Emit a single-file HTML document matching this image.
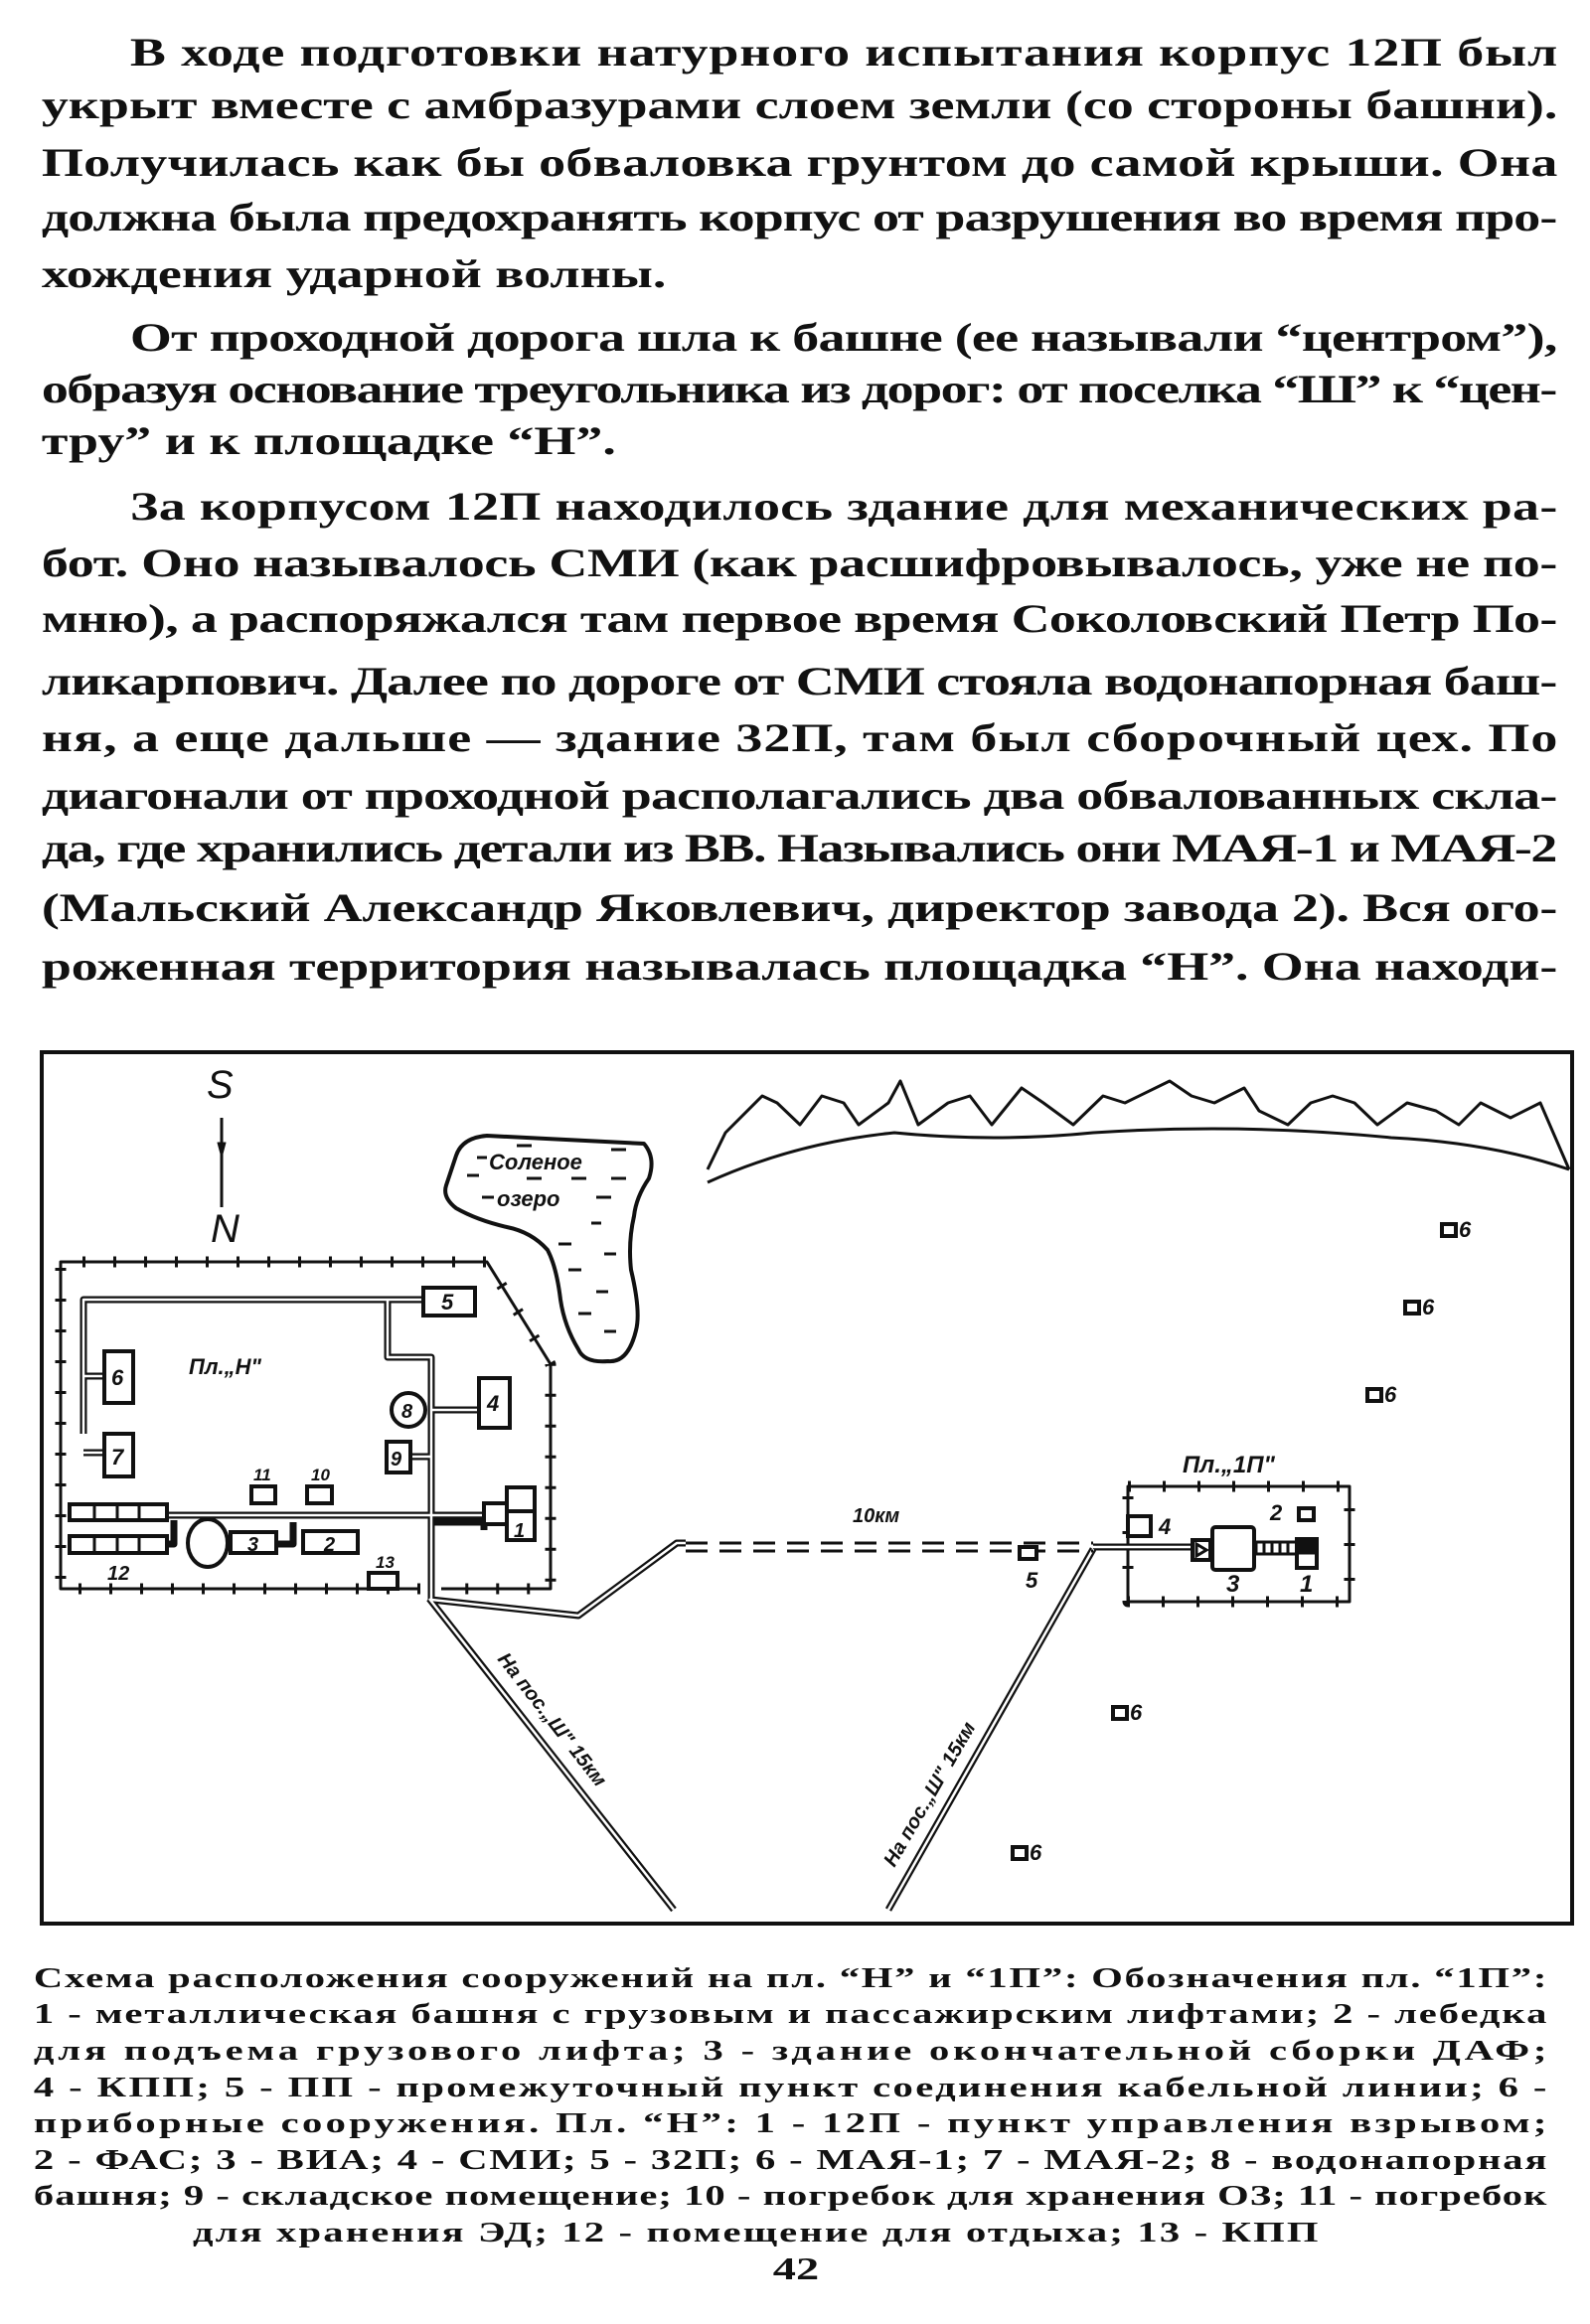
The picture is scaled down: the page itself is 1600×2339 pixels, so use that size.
<!DOCTYPE html>
<html><head><meta charset="utf-8"><style>
html,body{margin:0;padding:0;background:#fff}
svg{display:block}
.p{font-family:"Liberation Serif","DejaVu Serif",serif;font-weight:bold;font-size:40px;fill:#111}
.c{font-family:"Liberation Serif","DejaVu Serif",serif;font-weight:bold;font-size:28px;fill:#111}
.h{font-family:"Liberation Sans",sans-serif;font-style:italic;font-weight:bold;fill:#111}
</style></head><body>
<svg width="1600" height="2339" viewBox="0 0 1600 2339" xmlns="http://www.w3.org/2000/svg">
<g class="p" transform="scale(1.35,1)">
<text x="97" y="66" textLength="1064" lengthAdjust="spacing">В ходе подготовки натурного испытания корпус 12П был</text>
<text x="31" y="119" textLength="1130" lengthAdjust="spacing">укрыт вместе с амбразурами слоем земли (со стороны башни).</text>
<text x="31" y="177" textLength="1130" lengthAdjust="spacing">Получилась как бы обваловка грунтом до самой крыши. Она</text>
<text x="31" y="232" textLength="1130" lengthAdjust="spacing">должна была предохранять корпус от разрушения во время про-</text>
<text x="31" y="289">хождения ударной волны.</text>
<text x="97" y="353" textLength="1064" lengthAdjust="spacing">От проходной дорога шла к башне (ее называли “центром”),</text>
<text x="31" y="405" textLength="1130" lengthAdjust="spacing">образуя основание треугольника из дорог: от поселка “Ш” к “цен-</text>
<text x="31" y="457">тру” и к площадке “Н”.</text>
<text x="97" y="523" textLength="1064" lengthAdjust="spacing">За корпусом 12П находилось здание для механических ра-</text>
<text x="31" y="580" textLength="1130" lengthAdjust="spacing">бот. Оно называлось СМИ (как расшифровывалось, уже не по-</text>
<text x="31" y="636" textLength="1130" lengthAdjust="spacing">мню), а распоряжался там первое время Соколовский Петр По-</text>
<text x="31" y="699" textLength="1130" lengthAdjust="spacing">ликарпович. Далее по дороге от СМИ стояла водонапорная баш-</text>
<text x="31" y="756" textLength="1130" lengthAdjust="spacing">ня, а еще дальше — здание 32П, там был сборочный цех. По</text>
<text x="31" y="814" textLength="1130" lengthAdjust="spacing">диагонали от проходной располагались два обвалованных скла-</text>
<text x="31" y="867" textLength="1130" lengthAdjust="spacing">да, где хранились детали из ВВ. Назывались они МАЯ-1 и МАЯ-2</text>
<text x="31" y="927" textLength="1130" lengthAdjust="spacing">(Мальский Александр Яковлевич, директор завода 2). Вся ого-</text>
<text x="31" y="986" textLength="1130" lengthAdjust="spacing">роженная территория называлась площадка “Н”. Она находи-</text>
</g>

<rect x="42" y="1059" width="1540" height="877" fill="none" stroke="#111" stroke-width="4"/>

<g fill="none" stroke="#111" stroke-linejoin="round">
<line x1="223" y1="1125" x2="223" y2="1215" stroke-width="3"/>
<polygon points="219,1150 227,1150 223,1165" fill="#111" stroke-width="1"/>
<polyline stroke-width="3" points="712,1177 730,1140 767,1103 782,1110 805,1132 827,1103 849,1110 864,1132 894,1110 906,1088 924,1132 954,1110 976,1103 998,1132 1028,1095 1050,1110 1080,1132 1110,1103 1132,1110 1177,1088 1199,1103 1222,1110 1252,1095 1267,1118 1296,1132 1319,1110 1341,1103 1363,1110 1386,1132 1416,1110 1445,1118 1468,1132 1490,1110 1520,1125 1550,1110 1579,1177"/>
<path stroke-width="3" d="M712,1190 Q800,1150 900,1140 Q1000,1150 1100,1140 Q1250,1130 1400,1145 Q1500,1150 1579,1177"/>
<path stroke-width="4" d="M459,1163 Q465,1145 490,1143 L648,1151 Q660,1165 653,1186 Q640,1205 638,1224 Q632,1250 635,1278 Q645,1320 640,1339 Q632,1372 612,1370 Q588,1372 582,1358 Q568,1335 564,1308 Q560,1275 551,1258 Q535,1240 510,1235 Q480,1228 459,1216 Q445,1205 449,1193 Z"/>
<g stroke-width="3"><line x1="480" y1="1165" x2="490" y2="1165"/><line x1="520" y1="1153" x2="535" y2="1153"/><line x1="615" y1="1157" x2="630" y2="1157"/><line x1="470" y1="1183" x2="482" y2="1183"/><line x1="530" y1="1186" x2="545" y2="1186"/><line x1="575" y1="1186" x2="590" y2="1186"/><line x1="615" y1="1186" x2="630" y2="1186"/><line x1="485" y1="1205" x2="497" y2="1205"/><line x1="600" y1="1205" x2="615" y2="1205"/><line x1="595" y1="1231" x2="605" y2="1231"/><line x1="562" y1="1252" x2="575" y2="1252"/><line x1="608" y1="1262" x2="620" y2="1262"/><line x1="572" y1="1278" x2="585" y2="1278"/><line x1="600" y1="1300" x2="612" y2="1300"/><line x1="582" y1="1322" x2="595" y2="1322"/><line x1="608" y1="1340" x2="620" y2="1340"/></g>

<polyline stroke-width="3" points="423,1599 61,1599 61,1270 490,1270 554,1373 554,1599 444,1599"/>
<polyline stroke-width="11" stroke-dasharray="3 28" points="423,1599 61,1599 61,1270 490,1270 554,1373 554,1599 444,1599"/>
<rect x="1135" y="1496" width="223" height="116" stroke-width="3"/>
<rect x="1135" y="1496" width="223" height="116" stroke-width="11" stroke-dasharray="3 32"/>
</g>

<g fill="none" stroke-linejoin="round">
<g stroke="#111" stroke-width="7">
<polyline points="84,1443 84,1308 426,1308"/>
<polyline points="390,1308 390,1366 434,1366 434,1610"/>
<line x1="434" y1="1419" x2="482" y2="1419"/>
<line x1="413" y1="1466" x2="434" y2="1466"/>
<line x1="84" y1="1385" x2="105" y2="1385"/>
<line x1="84" y1="1462" x2="105" y2="1462"/>
<polyline points="168,1525 487,1525"/>
<polyline points="434,1532 487,1532 487,1540"/>
<polyline points="168,1554 175,1554 175,1530"/>
<polyline points="278,1554 295,1554 295,1532"/>
<polyline points="434,1610 582,1626 681,1553 690,1553"/>
<polyline points="432,1609 678,1922"/>
<polyline points="1100,1559 894,1922"/>
<line x1="1100" y1="1557" x2="1200" y2="1557"/>
</g>
<g stroke="#fff" stroke-width="2.5">
<polyline points="84,1443 84,1308 426,1308"/>
<polyline points="390,1308 390,1366 434,1366 434,1610"/>
<line x1="434" y1="1419" x2="482" y2="1419"/>
<line x1="413" y1="1466" x2="434" y2="1466"/>
<line x1="84" y1="1385" x2="105" y2="1385"/>
<line x1="84" y1="1462" x2="105" y2="1462"/>
<polyline points="168,1525 487,1525"/>
<polyline points="434,1610 582,1626 681,1553 690,1553"/>
<polyline points="432,1609 678,1922"/>
<polyline points="1100,1559 894,1922"/>
<line x1="1100" y1="1557" x2="1200" y2="1557"/>
</g>
<g stroke="#111" stroke-width="3" stroke-dasharray="22 12">
<line x1="690" y1="1553" x2="1100" y2="1553"/>
<line x1="690" y1="1561" x2="1100" y2="1561"/>
</g>
</g>

<g fill="#fff" stroke="#111" stroke-width="4">
<rect x="426" y="1296" width="52" height="28"/>
<rect x="105" y="1360" width="29" height="52"/>
<rect x="105" y="1443" width="29" height="43"/>
<circle cx="411" cy="1419" r="17"/>
<rect x="482" y="1387" width="31" height="50"/>
<rect x="389" y="1451" width="24" height="31"/>
<rect x="253" y="1496" width="24" height="17"/>
<rect x="309" y="1496" width="25" height="17"/>
<rect x="487" y="1513" width="23" height="21"/>
<rect x="510" y="1497" width="28" height="53"/>
<line x1="510" y1="1521" x2="538" y2="1521"/>
<rect x="70" y="1514" width="98" height="16"/>
<rect x="70" y="1546" width="98" height="17"/>
<ellipse cx="209" cy="1553" rx="20" ry="24"/>
<rect x="232" y="1542" width="46" height="21"/>
<rect x="305" y="1541" width="55" height="22"/>
<rect x="371" y="1583" width="29" height="16"/>
<rect x="1135" y="1526" width="23" height="20"/>
<rect x="1307" y="1518" width="15" height="12"/>
<rect x="1200" y="1550" width="18" height="20"/>
<rect x="1220" y="1537" width="42" height="43" rx="3"/>
<rect x="1305" y="1549" width="20" height="29"/>
<rect x="1026" y="1557" width="17" height="12"/>
<rect x="1451" y="1232" width="14" height="12"/>
<rect x="1414" y="1310" width="14" height="12"/>
<rect x="1376" y="1398" width="14" height="12"/>
<rect x="1120" y="1718" width="14" height="12"/>
<rect x="1019" y="1859" width="14" height="12"/>
</g>
<g stroke="#111" stroke-width="3">
<line x1="95" y1="1514" x2="95" y2="1530"/><line x1="118" y1="1514" x2="118" y2="1530"/><line x1="140" y1="1514" x2="140" y2="1530"/>
<line x1="95" y1="1546" x2="95" y2="1563"/><line x1="118" y1="1546" x2="118" y2="1563"/><line x1="140" y1="1546" x2="140" y2="1563"/>
<rect x="1264" y="1552" width="41" height="12" fill="none"/>
<line x1="1272" y1="1552" x2="1272" y2="1564"/><line x1="1280" y1="1552" x2="1280" y2="1564"/><line x1="1288" y1="1552" x2="1288" y2="1564"/><line x1="1296" y1="1552" x2="1296" y2="1564"/>
<polygon points="1204,1554 1214,1560 1204,1566" fill="none"/>
<rect x="1307" y="1551" width="16" height="12" fill="#111"/>
</g>

<g class="h">
<text x="208" y="1105" font-size="40" font-weight="normal">S</text>
<text x="212" y="1250" font-size="40" font-weight="normal">N</text>
<text x="492" y="1177" font-size="22">Соленое</text>
<text x="500" y="1214" font-size="22">озеро</text>
<text x="190" y="1383" font-size="22">Пл.„Н"</text>
<text x="444" y="1318" font-size="22">5</text>
<text x="112" y="1394" font-size="22">6</text>
<text x="112" y="1474" font-size="22">7</text>
<text x="404" y="1427" font-size="20">8</text>
<text x="490" y="1420" font-size="22">4</text>
<text x="393" y="1475" font-size="20">9</text>
<text x="255" y="1490" font-size="17">11</text>
<text x="313" y="1490" font-size="17">10</text>
<text x="517" y="1547" font-size="20">1</text>
<text x="249" y="1561" font-size="20">3</text>
<text x="326" y="1561" font-size="20">2</text>
<text x="108" y="1590" font-size="20">12</text>
<text x="378" y="1578" font-size="17">13</text>
<text x="858" y="1532" font-size="20">10км</text>
<text x="1190" y="1482" font-size="24">Пл.„1П"</text>
<text x="1166" y="1544" font-size="22">4</text>
<text x="1278" y="1530" font-size="22">2</text>
<text x="1234" y="1602" font-size="24">3</text>
<text x="1308" y="1602" font-size="24">1</text>
<text x="1032" y="1598" font-size="22">5</text>
<text x="1468" y="1245" font-size="22">6</text>
<text x="1431" y="1323" font-size="22">6</text>
<text x="1393" y="1411" font-size="22">6</text>
<text x="1137" y="1731" font-size="22">6</text>
<text x="1036" y="1872" font-size="22">6</text>
<text font-size="20" transform="translate(500,1670) rotate(52)">На пос.„Ш" 15км</text>
<text font-size="20" transform="translate(900,1880) rotate(-60)">На пос.„Ш" 15км</text>
</g>

<g class="c" transform="scale(1.45,1)">
<text x="23.4" y="2000" textLength="1050" lengthAdjust="spacing">Схема расположения сооружений на пл. “Н” и “1П”: Обозначения пл. “1П”:</text>
<text x="23.4" y="2036" textLength="1050" lengthAdjust="spacing">1 - металлическая башня с грузовым и пассажирским лифтами; 2 - лебедка</text>
<text x="23.4" y="2073" textLength="1050" lengthAdjust="spacing">для подъема грузового лифта; 3 - здание окончательной сборки ДАФ;</text>
<text x="23.4" y="2110" textLength="1050" lengthAdjust="spacing">4 - КПП; 5 - ПП - промежуточный пункт соединения кабельной линии; 6 -</text>
<text x="23.4" y="2146" textLength="1050" lengthAdjust="spacing">приборные сооружения. Пл. “Н”: 1 - 12П - пункт управления взрывом;</text>
<text x="23.4" y="2183" textLength="1050" lengthAdjust="spacing">2 - ФАС; 3 - ВИА; 4 - СМИ; 5 - 32П; 6 - МАЯ-1; 7 - МАЯ-2; 8 - водонапорная</text>
<text x="23.4" y="2219" textLength="1050" lengthAdjust="spacing">башня; 9 - складское помещение; 10 - погребок для хранения ОЗ; 11 - погребок</text>
<text x="133.8" y="2256" textLength="781" lengthAdjust="spacing">для хранения ЭД; 12 - помещение для отдыха; 13 - КПП</text>
<text x="552.4" y="2294" text-anchor="middle" font-size="32">42</text>
</g>
</svg>
</body></html>
